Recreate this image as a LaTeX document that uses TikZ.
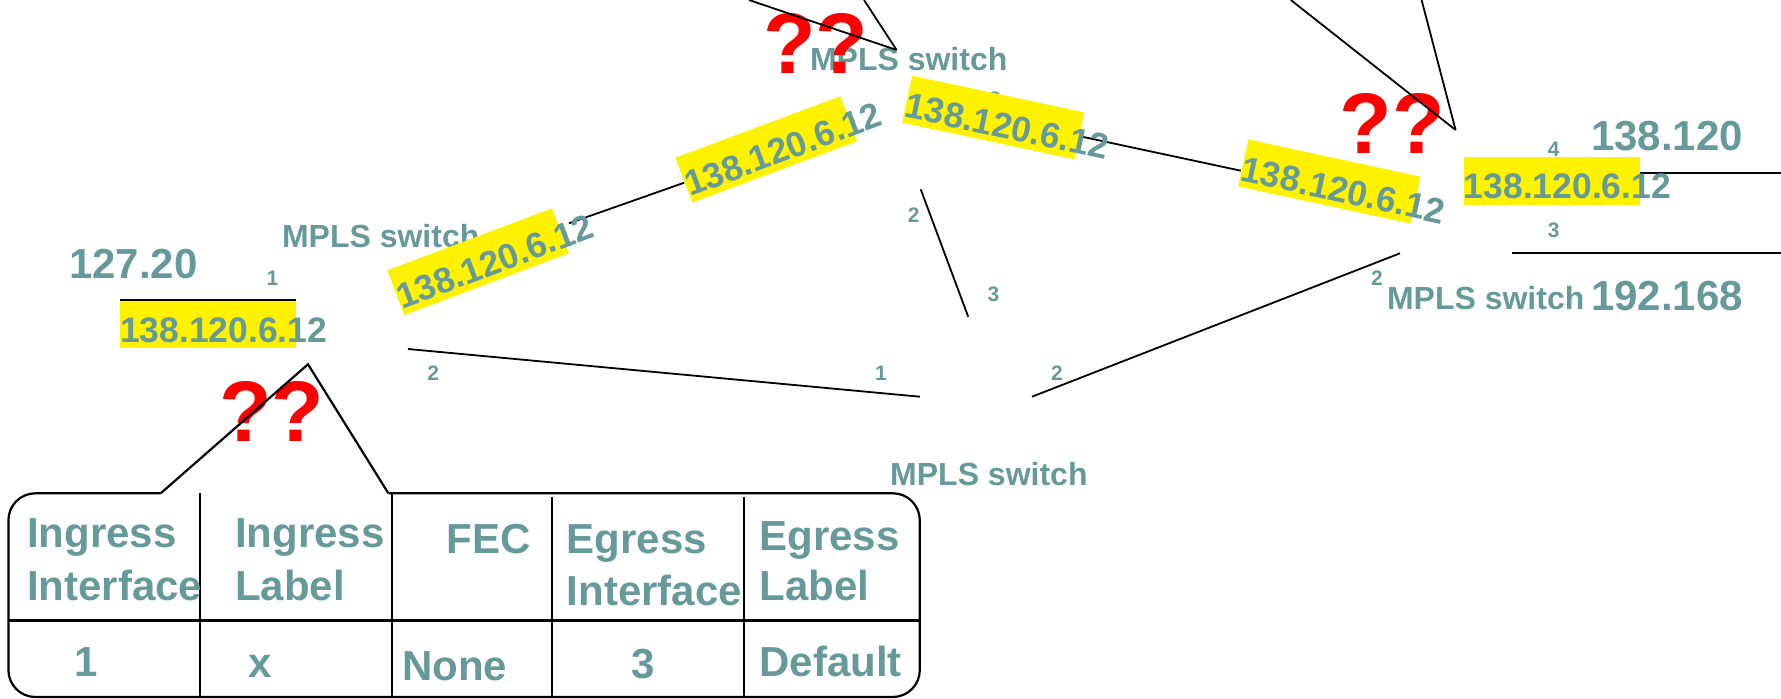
\documentclass[tikz,border=0pt]{standalone}
\usepackage{fontspec}
\setmainfont{Liberation Sans}
\definecolor{tealc}{RGB}{102,153,153}
\newcommand\iptext{\makebox[176pt][l]{138.120.6.12}}
\tikzset{
  txt/.style={inner sep=0pt, text=tealc},
  big/.style={txt, font=\fontsize{42}{50}\selectfont\bfseries},
  sw/.style={txt, font=\fontsize{32}{38}\selectfont\bfseries},
  num/.style={txt, font=\fontsize{21}{25}\selectfont\bfseries},
  tbl/.style={txt, font=\fontsize{42}{52}\selectfont\bfseries},
  qq/.style={inner sep=0pt, text=red, font=\fontsize{86}{100}\selectfont\bfseries},
  ipbox/.style={fill=yellow, inner xsep=0pt, inner ysep=0pt, text height=42pt, text depth=6pt,
                text=tealc, font=\fontsize{35.5}{40}\selectfont\bfseries},
  wire/.style={line width=1.8pt, black},
  tblline/.style={line width=2.2pt, black},
}
\begin{document}
\begin{tikzpicture}[x=1pt,y=-1pt]
\useasboundingbox (0,0) rectangle (1781,699);

% ---- coordinates for connector ends
\coordinate (a1) at (749,0);      \coordinate (a2) at (896.6,50);
\coordinate (b1) at (864,0);
\coordinate (c1) at (1290.8,0);   \coordinate (c2) at (1455.6,130);
\coordinate (d1) at (1421.6,0);
\coordinate (e1) at (569,223.3);  \coordinate (e2) at (684.2,182.7);
\coordinate (f1) at (1082,136.7); \coordinate (f2) at (1240.8,170.7);
\coordinate (g1) at (408,349);    \coordinate (g2) at (919.8,396.7);
\coordinate (h1) at (1032,396.7); \coordinate (h2) at (1400,253.3);
\coordinate (i1) at (920.7,189.3); \coordinate (i2) at (968.2,316.7);
\coordinate (j1) at (1639.8,172.7); \coordinate (j2) at (1781,172.7);
\coordinate (k1) at (1512.3,252.7); \coordinate (k2) at (1781,252.7);
\coordinate (m1) at (120,300);    \coordinate (m2) at (296,300);

% ---- texts
\node[big, anchor=base west] (t127) at (68.9,278) {127.20};
\node[big, anchor=base west] (t138) at (1590.8,150.7) {138.120};
\node[big, anchor=base west] (t192) at (1590.8,310.7) {192.168};

\node[sw, anchor=base west] (swL) at (281.8,247) {MPLS switch};
\node[sw, anchor=base west] (swT) at (809.8,70) {MPLS switch};
\node[sw, anchor=base west] (swR) at (1386.8,309.3) {MPLS switch};
\node[sw, anchor=base west] (swB) at (890,485.7) {MPLS switch};

\node[num, anchor=base] (nA) at (272.5,285) {1};
\node[num, anchor=base] (nB) at (433.3,380) {2};
\node[num, anchor=base] (nC) at (881,380) {1};
\node[num, anchor=base] (nD) at (1057,380) {2};
\node[num, anchor=base] (nE) at (913.8,222) {2};
\node[num, anchor=base] (nF) at (993.4,301) {3};
\node[num, anchor=base] (nG) at (1553.8,156.7) {4};
\node[num, anchor=base] (nH) at (1553.8,237.3) {3};
\node[num, anchor=base] (nI) at (1377,285.7) {2};
\node[num, anchor=base] (nJ) at (995,106.5) {2};

% ---- wires
\draw[wire] (e1) -- (e2);
\draw[wire] (f1) -- (f2);
\draw[wire] (g1) -- (g2);
\draw[wire] (h1) -- (h2);
\draw[wire] (i1) -- (i2);
\draw[wire] (j1) -- (j2);
\draw[wire] (k1) -- (k2);

% ---- yellow labels
\node[ipbox] (L0) at (208,324) {\iptext};
\node[ipbox, rotate=20.6] (L1) at (478.2,261.7) {\iptext};
\node[ipbox, rotate=20.4] (L2) at (766.3,149.4) {\iptext};
\node[ipbox, rotate=-12] (L3) at (993.2,117.5) {\iptext};
\node[ipbox, rotate=-12.2] (L4) at (1329.3,181.5) {\iptext};
\node[ipbox] (L5) at (1551.8,180.9) {\iptext};
\draw[wire] (m1) -- (m2);

% ---- question marks
\node[qq, anchor=base west] (q1) at (763,73) {??};
\node[qq, anchor=base west] (q2) at (1339.5,153.3) {??};
\node[qq, anchor=base west] (q3) at (219,441.7) {??};

\draw[wire] (a1) -- (a2);
\draw[wire] (b1) -- (a2);
\draw[wire] (c1) -- (c2);
\draw[wire] (d1) -- (c2);

% ---- callout table
\coordinate (cpL) at (160.7,493.3);
\coordinate (cpA) at (308,364.3);
\coordinate (cpR) at (388.4,493.3);
\draw[tblline, rounded corners=27pt] (cpR) -- (919.8,493.3) -- (919.8,697) -- (8.4,697) -- (8.4,493.3) -- (cpL);
\draw[tblline, line join=miter] (cpL) -- (cpA) -- (cpR);
\draw[tblline] (8.4,620.5) -- (919.8,620.5);
\draw[tblline] (199.8,493.3) -- (199.8,697);
\draw[tblline] (392.3,493.3) -- (392.3,697);
\draw[tblline] (551.9,496.7) -- (551.9,697);
\draw[tblline] (743.8,496.7) -- (743.8,697);

\node[tbl, anchor=base west] (h1a) at (27,547) {Ingress};
\node[tbl, anchor=base west] (h1b) at (27,600) {Interface};
\node[tbl, anchor=base west] (h2a) at (235,547) {Ingress};
\node[tbl, anchor=base west] (h2b) at (235,600) {Label};
\node[tbl, anchor=base west] (h3a) at (446.7,553.3) {FEC};
\node[tbl, anchor=base west] (h4a) at (566.7,553.3) {Egress};
\node[tbl, anchor=base west] (h4b) at (566.7,605) {Interface};
\node[tbl, anchor=base west] (h5a) at (759.2,550) {Egress};
\node[tbl, anchor=base west] (h5b) at (759.2,600) {Label};

\node[tbl, anchor=base west] (r1) at (74.7,676) {1};
\node[tbl, anchor=base west] (r2) at (248,677) {x};
\node[tbl, anchor=base west] (r3) at (402,680.7) {None};
\node[tbl, anchor=base west] (r4) at (631.7,678.3) {3};
\node[tbl, anchor=base west] (r5) at (759.2,676.7) {Default};
\end{tikzpicture}
\end{document}
